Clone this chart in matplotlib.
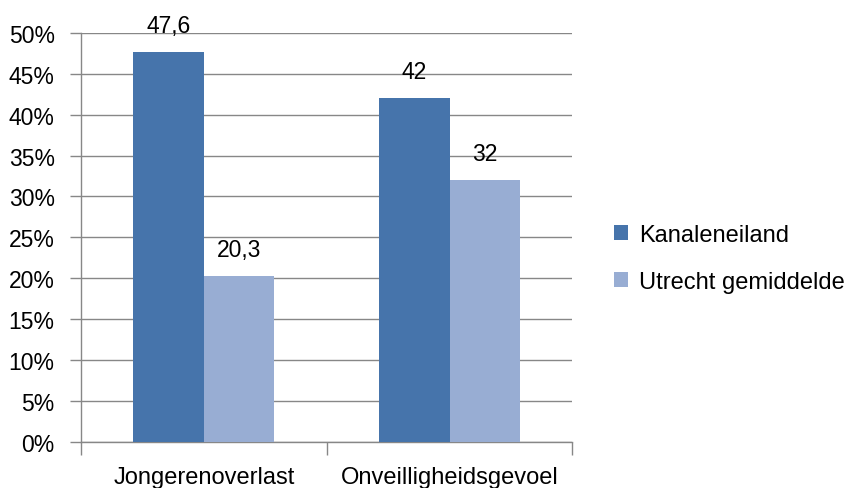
import matplotlib.pyplot as plt
import numpy as np
from matplotlib.ticker import FuncFormatter

# Data
categories = ["Jongerenoverlast", "Onveilligheidsgevoel"]
series_names = ["Kanaleneiland", "Utrecht gemiddelde"]
kanaleneiland = [47.6, 42.0]
utrecht = [20.3, 32.0]
value_labels = [["47,6", "42"], ["20,3", "32"]]

colors = ["#4674AB", "#98ADD3"]
grid_color = "#878787"

plt.rcParams["font.family"] = ["Liberation Sans", "DejaVu Sans"]
fs_num = 16.5
fs_txt = 17

fig = plt.figure(figsize=(8.53, 4.89), dpi=100)
ax = fig.add_axes([0.095, 0.094, 0.576, 0.837])

x = np.arange(len(categories))
width = 0.287
bars = []
for i, (vals, name) in enumerate(zip([kanaleneiland, utrecht], series_names)):
    b = ax.bar(x + (i - 0.5) * width, vals, width, color=colors[i], label=name, zorder=3)
    bars.append(b)
    for rect, lab in zip(b, value_labels[i]):
        ax.annotate(lab, (rect.get_x() + rect.get_width() / 2, rect.get_height()),
                    xytext=(0, 14.5), textcoords="offset points",
                    ha="center", va="baseline", fontsize=fs_num, color="#000000",
                    zorder=4)

ax.set_xlim(-0.5, 1.5)
ax.set_ylim(0, 50)
ax.set_yticks(np.arange(0, 51, 5))
ax.yaxis.set_major_formatter(FuncFormatter(lambda v, p: f"{int(v)}%"))
ax.grid(axis="y", color=grid_color, linewidth=1, zorder=0)

# category labels centered, ticks at boundaries
ax.set_xticks([-0.5, 0.5, 1.5])
ax.set_xticklabels([])
ax.set_xticks(x, minor=True)
ax.set_xticklabels(categories, minor=True, fontsize=fs_txt)
ax.tick_params(axis="x", which="minor", length=0, pad=17)
ax.tick_params(axis="x", which="major", length=9, width=1, color=grid_color)
ax.tick_params(axis="y", length=8, width=1, color=grid_color, labelsize=fs_num, pad=11)

for side in ["top", "right"]:
    ax.spines[side].set_visible(False)
for side in ["left", "bottom"]:
    ax.spines[side].set_color(grid_color)
    ax.spines[side].set_linewidth(1)

fig.legend(handles=bars, labels=series_names, loc="center left",
           bbox_to_anchor=(0.695, 0.47), frameon=False, fontsize=fs_txt,
           handlelength=0.6, handleheight=0.6, handletextpad=0.45,
           labelspacing=1.05)

fig.savefig("out.png", dpi=100)
